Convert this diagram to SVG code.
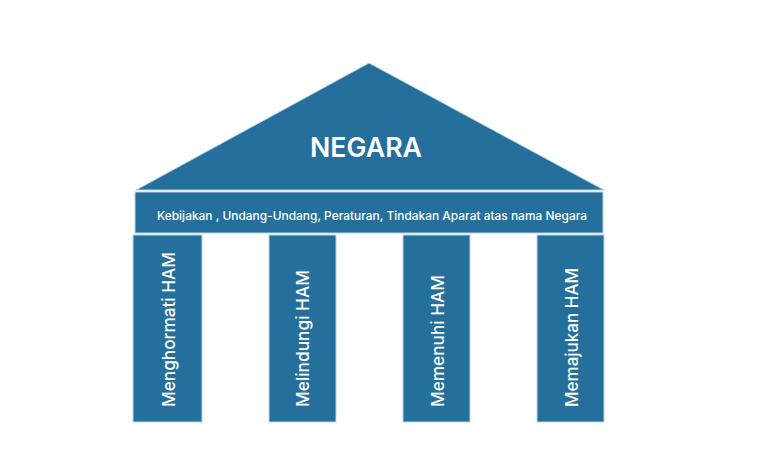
<svg xmlns="http://www.w3.org/2000/svg" width="768" height="467" viewBox="0 0 768 467">
<style>
.b{fill:#246f9b;stroke:#b9d6e6;stroke-width:1}
.t{fill:#ffffff;font-family:Inter,"Open Sans","Liberation Sans",sans-serif}
.c{font-size:17px;font-weight:500}
</style>
<rect width="768" height="467" fill="#ffffff"/>
<g id="roof">
<polygon class="b" points="369,63 604,190 136,190"/>
<text class="t" x="366" y="157" font-size="27" font-weight="600" text-anchor="middle" textLength="112" lengthAdjust="spacingAndGlyphs">NEGARA</text>
</g>
<g id="beam">
<rect class="b" x="135" y="192" width="468" height="41"/>
<text class="t" x="372" y="220" font-size="12" font-weight="500" text-anchor="middle" textLength="430" lengthAdjust="spacingAndGlyphs">Kebijakan , Undang-Undang, Peraturan, Tindakan Aparat atas nama Negara</text>
</g>
<g id="pillar1">
<rect class="b" x="133" y="235" width="69" height="187"/>
<text class="t c" transform="translate(175,407) rotate(-90)" textLength="155" lengthAdjust="spacingAndGlyphs">Menghormati HAM</text>
</g>
<g id="pillar2">
<rect class="b" x="269" y="235" width="67" height="187"/>
<text class="t c" transform="translate(309,407) rotate(-90)" textLength="137" lengthAdjust="spacingAndGlyphs">Melindungi HAM</text>
</g>
<g id="pillar3">
<rect class="b" x="403" y="235" width="67" height="187"/>
<text class="t c" transform="translate(444,407) rotate(-90)" textLength="132" lengthAdjust="spacingAndGlyphs">Memenuhi HAM</text>
</g>
<g id="pillar4">
<rect class="b" x="537" y="235" width="67" height="187"/>
<text class="t c" transform="translate(578,407) rotate(-90)" textLength="139" lengthAdjust="spacingAndGlyphs">Memajukan HAM</text>
</g>
<g id="connectors"/>
</svg>
